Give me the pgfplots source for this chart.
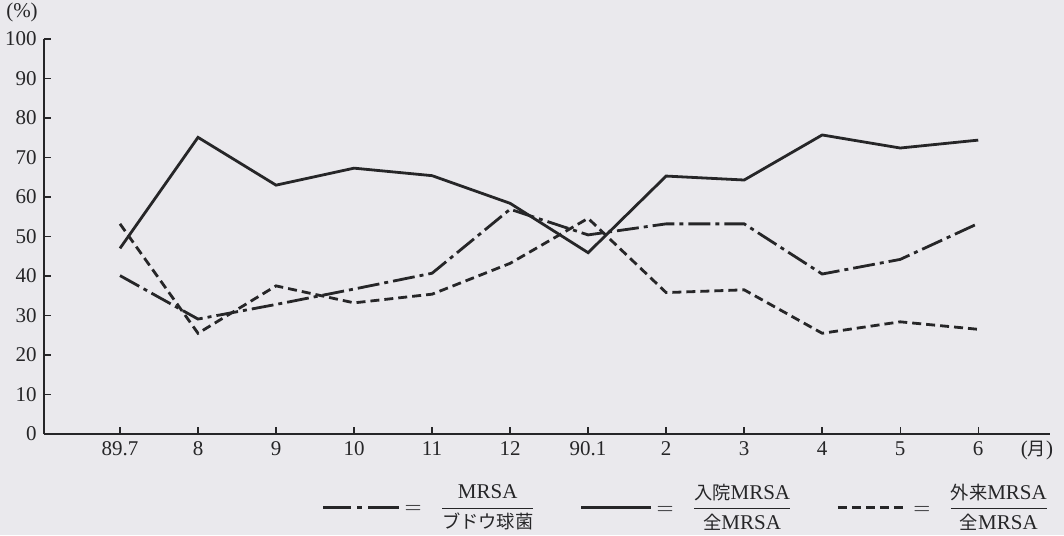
\documentclass[border=0pt]{standalone}
\usepackage{pgfplots}
\pgfplotsset{compat=1.18}
\usepackage{amsmath}
\usepackage{fontspec}
\setmainfont{Liberation Serif}
\newfontfamily\cjk[Scale=0.87]{Noto Sans CJK JP}
\definecolor{bg}{RGB}{234,233,237}
\definecolor{ink}{RGB}{38,38,40}
\pgfplotsset{
  imgA/.style={legend image code/.code={\draw[##1, dash pattern=on 14pt off 3pt on 2.5pt off 3pt on 20pt] (0pt,-3.4pt) -- (38pt,-3.4pt);}},
  imgB/.style={legend image code/.code={\draw[##1] (0pt,-3.4pt) -- (35pt,-3.4pt);}},
}
\begin{document}
\fontsize{10.5pt}{12pt}\selectfont
\begin{tikzpicture}
\fill[bg] (-22pt,-50.5pt) rectangle (510pt,217pt);
\begin{axis}[
  scale only axis, width=503pt, height=197.5pt,
  xmin=-0.974, xmax=11.92, ymin=0, ymax=100,
  axis x line=bottom, axis y line=left,
  axis line style={-, line width=1.1pt, ink},
  xtick={0,...,11},
  xticklabels={89.7,8,9,10,11,12,90.1,2,3,4,5,6},
  ytick={0,10,...,100},
  tick align=inside, major tick length=3.5pt,
  tick style={line width=0.7pt, ink},
  ticklabel style={font=\fontsize{10.5pt}{12pt}\selectfont, text=ink},
  /pgf/number format/assume math mode=true,
  clip=false,
  legend columns=3,
  legend style={at={(0.6397,-0.169)}, anchor=center, draw=none, fill=none,
    font=\fontsize{10.5pt}{12pt}\selectfont, text=ink,
    /tikz/every even column/.append style={column sep=20pt}},
]
\addplot[ink, line width=1.4pt, dash pattern=on 11pt off 2.5pt on 2pt off 2.5pt, imgA]
  coordinates {(0,40.1) (1,29.1) (2,32.8) (3,36.7) (4,40.7) (5,56.9) (6,50.4) (7,53.2) (8,53.2) (9,40.5) (10,44.2) (11,53.3)};
\addlegendentry{$=$\hspace{9pt}$\dfrac{\text{MRSA}}{\text{\cjk ブドウ球菌}}$}
\addplot[ink, line width=1.4pt, solid, imgB]
  coordinates {(0,47.0) (1,75.1) (2,63.0) (3,67.3) (4,65.4) (5,58.4) (6,45.9) (7,65.3) (8,64.3) (9,75.7) (10,72.4) (11,74.4)};
\addlegendentry{$=$\hspace{9pt}$\dfrac{\text{\cjk 入院}\text{MRSA}}{\text{\cjk 全}\text{MRSA}}$}
\addplot[ink, line width=1.4pt, dash pattern=on 4.5pt off 2.5pt, imgB]
  coordinates {(0,53.2) (1,25.5) (2,37.5) (3,33.2) (4,35.4) (5,43.2) (6,54.6) (7,35.8) (8,36.5) (9,25.5) (10,28.4) (11,26.5)};
\addlegendentry{$=$\hspace{9pt}$\dfrac{\text{\cjk 外来}\text{MRSA}}{\text{\cjk 全}\text{MRSA}}$}
\end{axis}
\node[text=ink] at (-11pt,211pt) {(\%)};
\node[text=ink] at (496.5pt,-8pt) {(\cjk 月\normalfont)};
\pgfresetboundingbox
\path (-22pt,-50.5pt) rectangle (510pt,217pt);
\end{tikzpicture}
\end{document}
